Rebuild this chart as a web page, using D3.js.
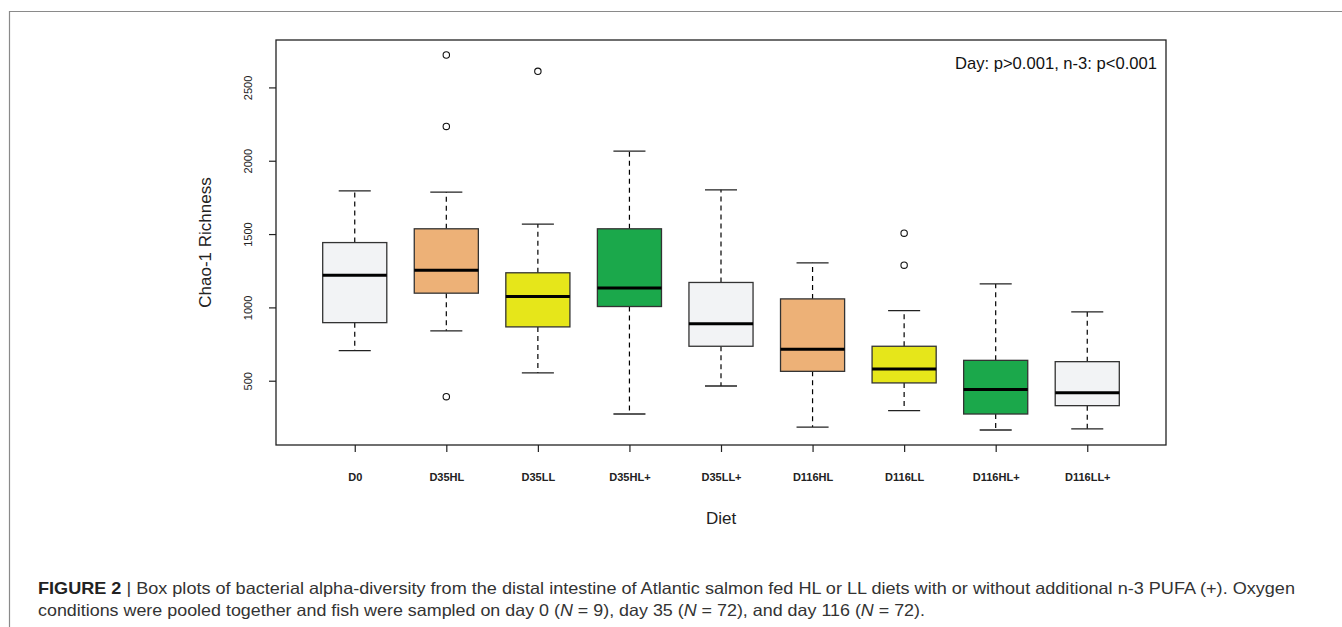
<!DOCTYPE html>
<html>
<head>
<meta charset="utf-8">
<script src="https://cdn.jsdelivr.net/npm/d3@7"></script>
<style>
  html, body { margin: 0; padding: 0; background: #fff; }
  svg { display: block; }
</style>
</head>
<body>
<svg id="fig" width="1342" height="627"></svg>
<script>
// Diet groups along the x axis
const diets = ["D0", "D35HL", "D35LL", "D35HL+", "D35LL+", "D116HL", "D116LL", "D116HL+", "D116LL+"];

// Five-number summaries of Chao-1 richness per diet
const whiskerLow  = [705, 840, 553, 273, 464, 184, 296, 164, 171];
const boxLow      = [896, 1097, 867, 1006, 735, 564, 485, 273, 330];
const medians     = [1220, 1254, 1074, 1133, 889, 714, 580, 441, 418];
const boxHigh     = [1442, 1536, 1236, 1536, 1170, 1058, 735, 639, 630];
const whiskerHigh = [1795, 1786, 1568, 2066, 1802, 1304, 978, 1160, 969];

// Outlying samples: [diet index, value]
const outliers = [[1, 2721], [1, 2234], [1, 391], [2, 2610], [6, 1506], [6, 1288]];

// Fill colour of each box
const fills = ["#f2f3f5", "#edb177", "#e6e61a", "#1ba84b", "#f2f3f5", "#edb177", "#e6e61a", "#1ba84b", "#f2f3f5"];

const yTicks = [500, 1000, 1500, 2000, 2500];

const svg = d3.select("#fig");

// outer figure frame
svg.append("path")
  .attr("d", "M9.5,627 L9.5,11.5 L1342,11.5")
  .attr("fill", "none").attr("stroke", "#8a8a8a").attr("stroke-width", 1.2);

const plot = { left: 276, right: 1166, top: 40, bottom: 445 };

// R-style axis extension of 4%
const allVals = whiskerLow.concat(whiskerHigh, outliers.map(d => d[1]));
const vMin = d3.min(allVals), vMax = d3.max(allVals);
const pad = (vMax - vMin) * 0.04;
const y = d3.scaleLinear().domain([vMin - pad, vMax + pad]).range([plot.bottom, plot.top]);
const x = d3.scaleLinear().domain([0.5 - 0.36, diets.length + 0.5 + 0.36]).range([plot.left, plot.right]);

const unit = x(2) - x(1);
const boxW = unit * 0.7;
const capW = boxW * 0.5;

const g = svg.append("g");

diets.forEach((d, i) => {
  const cx = x(i + 1);
  const grp = g.append("g");
  // dashed whiskers
  grp.append("line").attr("x1", cx).attr("x2", cx)
    .attr("y1", y(boxHigh[i])).attr("y2", y(whiskerHigh[i]))
    .attr("stroke", "#000").attr("stroke-width", 1.2).attr("stroke-dasharray", "5,4");
  grp.append("line").attr("x1", cx).attr("x2", cx)
    .attr("y1", y(boxLow[i])).attr("y2", y(whiskerLow[i]))
    .attr("stroke", "#000").attr("stroke-width", 1.2).attr("stroke-dasharray", "5,4");
  // caps
  [whiskerHigh[i], whiskerLow[i]].forEach(v => {
    grp.append("line").attr("x1", cx - capW / 2).attr("x2", cx + capW / 2)
      .attr("y1", y(v)).attr("y2", y(v))
      .attr("stroke", "#222").attr("stroke-width", 1.3);
  });
  // box
  grp.append("rect")
    .attr("x", cx - boxW / 2).attr("width", boxW)
    .attr("y", y(boxHigh[i])).attr("height", y(boxLow[i]) - y(boxHigh[i]))
    .attr("fill", fills[i]).attr("stroke", "#333").attr("stroke-width", 1.3);
  // median
  grp.append("line").attr("x1", cx - boxW / 2).attr("x2", cx + boxW / 2)
    .attr("y1", y(medians[i])).attr("y2", y(medians[i]))
    .attr("stroke", "#000").attr("stroke-width", 3);
});

// outliers
g.selectAll("circle.out").data(outliers).enter().append("circle")
  .attr("class", "out")
  .attr("cx", d => x(d[0] + 1)).attr("cy", d => y(d[1]))
  .attr("r", 3.2).attr("fill", "none").attr("stroke", "#111").attr("stroke-width", 1.1);

// plot frame
svg.append("rect")
  .attr("x", plot.left).attr("y", plot.top)
  .attr("width", plot.right - plot.left).attr("height", plot.bottom - plot.top)
  .attr("fill", "none").attr("stroke", "#222").attr("stroke-width", 1.3);

// y axis
const yAxis = d3.axisLeft(y).tickValues(yTicks).tickSize(7).tickFormat(d3.format("d"));
const ya = svg.append("g").attr("transform", `translate(${plot.left},0)`).call(yAxis);
ya.select(".domain").remove();
ya.selectAll(".tick line").attr("stroke", "#222").attr("stroke-width", 1.2);
ya.selectAll(".tick text")
  .attr("x", null).attr("dy", null)
  .attr("transform", "translate(-24,0) rotate(-90)")
  .attr("text-anchor", "middle")
  .style("font-family", "'Liberation Sans', Arial, sans-serif")
  .style("font-size", "11px").attr("fill", "#222");

// x axis
const xAxis = d3.axisBottom(x).tickValues(d3.range(1, diets.length + 1)).tickSize(7)
  .tickFormat(d => diets[d - 1]);
const xa = svg.append("g").attr("transform", `translate(0,${plot.bottom})`).call(xAxis);
xa.select(".domain").remove();
xa.selectAll(".tick line").attr("stroke", "#222").attr("stroke-width", 1.2);
xa.selectAll(".tick text")
  .attr("y", 28)
  .style("font-family", "'Liberation Sans Narrow', 'Liberation Sans', sans-serif")
  .style("font-weight", "bold")
  .style("font-size", "11px").attr("fill", "#222");

// axis titles
svg.append("text")
  .attr("transform", `translate(211,${(plot.top + plot.bottom) / 2}) rotate(-90)`)
  .attr("text-anchor", "middle")
  .style("font-family", "'Liberation Sans', Arial, sans-serif")
  .style("font-size", "17px").attr("fill", "#222")
  .text("Chao-1 Richness");

svg.append("text")
  .attr("x", (plot.left + plot.right) / 2).attr("y", 524)
  .attr("text-anchor", "middle")
  .style("font-family", "'Liberation Sans', Arial, sans-serif")
  .style("font-size", "17px").attr("fill", "#222")
  .text("Diet");

// statistics note
svg.append("text")
  .attr("x", 1157).attr("y", 69)
  .attr("text-anchor", "end")
  .style("font-family", "'Liberation Sans', Arial, sans-serif")
  .style("font-size", "16.6px").attr("fill", "#111")
  .text("Day: p>0.001, n-3: p<0.001");

// caption
const cap = svg.append("g")
  .style("font-family", "'Liberation Sans Narrow', 'Liberation Sans', sans-serif")
  .style("font-size", "16.5px").attr("fill", "#333");

const line1 = cap.append("text").attr("x", 38).attr("y", 594).attr("textLength", 1257).attr("lengthAdjust", "spacingAndGlyphs");
line1.append("tspan").style("font-weight", "bold").attr("fill", "#222").text("FIGURE 2");
line1.append("tspan").text("  |  Box plots of bacterial alpha-diversity from the distal intestine of Atlantic salmon fed HL or LL diets with or without additional n-3 PUFA (+). Oxygen");

const line2 = cap.append("text").attr("x", 38).attr("y", 616).attr("textLength", 887).attr("lengthAdjust", "spacingAndGlyphs");
line2.append("tspan").text("conditions were pooled together and fish were sampled on day 0 (");
line2.append("tspan").style("font-style", "italic").text("N");
line2.append("tspan").text(" = 9), day 35 (");
line2.append("tspan").style("font-style", "italic").text("N");
line2.append("tspan").text(" = 72), and day 116 (");
line2.append("tspan").style("font-style", "italic").text("N");
line2.append("tspan").text(" = 72).");
</script>
</body>
</html>
